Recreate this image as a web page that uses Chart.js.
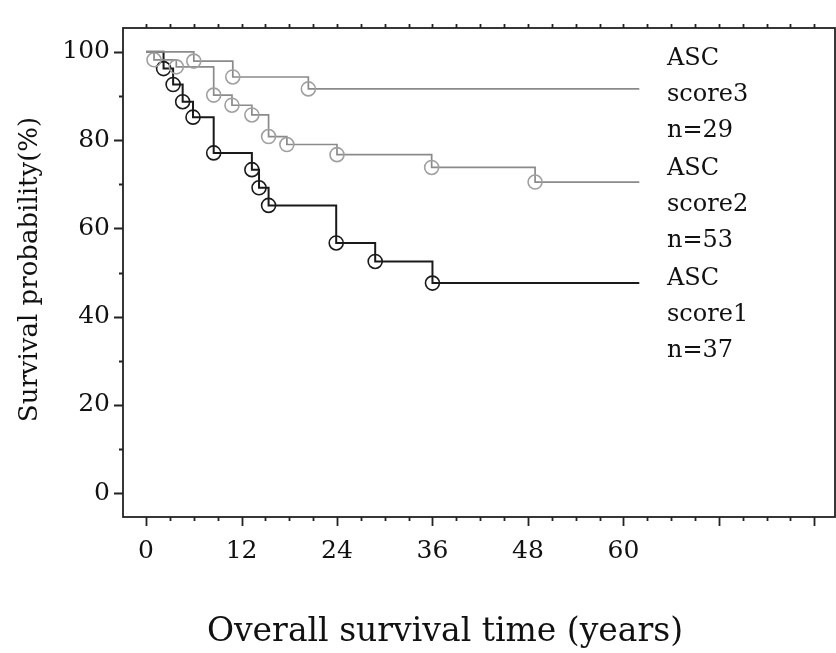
<!DOCTYPE html>
<html>
<head>
<meta charset="utf-8">
<title>Overall survival by ASC score</title>
<script src="https://cdn.jsdelivr.net/npm/chart.js@4.4.1/dist/chart.umd.min.js"></script>
<style>
  html, body { margin: 0; padding: 0; background: #fff; }
  canvas { display: block; }
</style>
</head>
<body>
<canvas id="survChart" width="836" height="653"></canvas>
<script>
// values (time, survival %)
const score1Times = [2.2, 3.4, 4.6, 5.9, 8.5, 13.3, 14.2, 15.4, 23.9, 28.8, 36.0];
const score1Surv  = [96.2, 92.6, 88.7, 85.2, 77.1, 73.3, 69.2, 65.2, 56.7, 52.5, 47.6];
const score2Times = [1.0, 3.8, 8.5, 10.8, 13.3, 15.4, 17.7, 24.0, 35.9, 48.9];
const score2Surv  = [98.2, 96.6, 90.2, 87.9, 85.7, 80.8, 79.0, 76.7, 73.8, 70.5];
const score3Times = [6.0, 10.9, 20.4];
const score3Surv  = [97.9, 94.3, 91.6];
const endTime = 62;

const xTickLabels = [0, 12, 24, 36, 48, 60];
const yTickLabels = [0, 20, 40, 60, 80, 100];
const legendGroups = [
  ['ASC', 'score3', 'n=29'],
  ['ASC', 'score2', 'n=53'],
  ['ASC', 'score1', 'n=37']
];
const xTitle = 'Overall survival time (years)';
const yTitle = 'Survival probability(%)';

const FONT = "'DejaVu Serif', 'Liberation Serif', serif";
const INK = '#111';

// step points: start at 100%, one point per event, then flat to the end
function kmPoints(times, surv) {
  const pts = [{ x: 0, y: 100 }];
  times.forEach((t, i) => pts.push({ x: t, y: surv[i] }));
  pts.push({ x: endTime, y: surv[surv.length - 1] });
  return pts;
}

function curve(label, times, surv, lineColor, markColor, width) {
  return {
    label: label,
    data: kmPoints(times, surv),
    stepped: 'before',
    borderColor: lineColor,
    borderWidth: width,
    fill: false,
    pointStyle: 'circle',
    pointRadius: ctx => (ctx.dataIndex === 0 || ctx.dataIndex === ctx.dataset.data.length - 1) ? 0 : 7,
    pointBorderColor: markColor,
    pointBorderWidth: 1.6,
    pointBackgroundColor: 'rgba(0,0,0,0)'
  };
}

// box, outside ticks (major/minor) and the free text
const framePlugin = {
  id: 'frame',
  beforeDatasetsDraw(chart) {
    const { ctx, chartArea: a, scales: { x, y } } = chart;
    ctx.save();
    ctx.strokeStyle = '#222';
    ctx.lineWidth = 1.8;
    ctx.strokeRect(a.left, a.top, a.right - a.left, a.bottom - a.top);
    ctx.beginPath();
    for (let m = 0; m <= 84; m += 3) {
      const px = Math.round(x.getPixelForValue(m)) + 0.5;
      const len = m % 12 === 0 ? 9 : 4;
      ctx.moveTo(px, a.bottom);
      ctx.lineTo(px, a.bottom + len);
      ctx.moveTo(px, a.top);
      ctx.lineTo(px, a.top - 4);
    }
    for (let v = 0; v <= 100; v += 10) {
      const py = Math.round(y.getPixelForValue(v)) + 0.5;
      const len = v % 20 === 0 ? 9 : 4;
      ctx.moveTo(a.left, py);
      ctx.lineTo(a.left - len, py);
    }
    ctx.stroke();
    ctx.restore();
  },
  afterDraw(chart) {
    const { ctx, chartArea: a } = chart;
    ctx.save();
    ctx.fillStyle = INK;

    // y title
    ctx.save();
    ctx.translate(30, (a.top + a.bottom) / 2 - 3);
    ctx.rotate(-Math.PI / 2);
    ctx.font = '26px ' + FONT;
    ctx.textAlign = 'center';
    ctx.textBaseline = 'middle';
    ctx.fillText(yTitle, 0, 0);
    ctx.restore();

    // x title
    ctx.font = '33px ' + FONT;
    ctx.textAlign = 'center';
    ctx.textBaseline = 'middle';
    ctx.fillText(xTitle, 445, 632);

    // group labels at the right
    ctx.font = '24px ' + FONT;
    ctx.textAlign = 'left';
    ctx.textBaseline = 'alphabetic';
    const firstBase = [65, 175, 285];
    legendGroups.forEach((g, gi) => {
      g.forEach((txt, li) => ctx.fillText(txt, 667, firstBase[gi] + li * 36));
    });
    ctx.restore();
  }
};

const chart = new Chart(document.getElementById('survChart'), {
  type: 'line',
  data: {
    datasets: [
      curve('ASC score3', score3Times, score3Surv, '#8a8a8a', '#a0a0a0', 1.7),
      curve('ASC score2', score2Times, score2Surv, '#8a8a8a', '#a0a0a0', 1.7),
      curve('ASC score1', score1Times, score1Surv, '#1a1a1a', '#1a1a1a', 2)
    ]
  },
  options: {
    responsive: false,
    animation: false,
    layout: { padding: { top: 20, right: 1, left: 0, bottom: 0 } },
    plugins: {
      legend: { display: false },
      tooltip: { enabled: false }
    },
    scales: {
      x: {
        type: 'linear',
        min: -2.9,
        max: 86.6,
        afterBuildTicks: s => { s.ticks = xTickLabels.map(v => ({ value: v })); },
        afterFit: s => { s.height = 136; },
        grid: { display: false, drawTicks: false },
        border: { display: false },
        ticks: { padding: 19, color: INK, font: { family: FONT, size: 25 }, maxRotation: 0 }
      },
      y: {
        min: -5.4,
        max: 105.4,
        afterBuildTicks: s => { s.ticks = yTickLabels.map(v => ({ value: v })); },
        afterFit: s => { s.width = 123; },
        grid: { display: false, drawTicks: false },
        border: { display: false },
        ticks: { padding: 13, color: INK, font: { family: FONT, size: 25 } }
      }
    }
  },
  plugins: [framePlugin]
});
</script>
</body>
</html>
